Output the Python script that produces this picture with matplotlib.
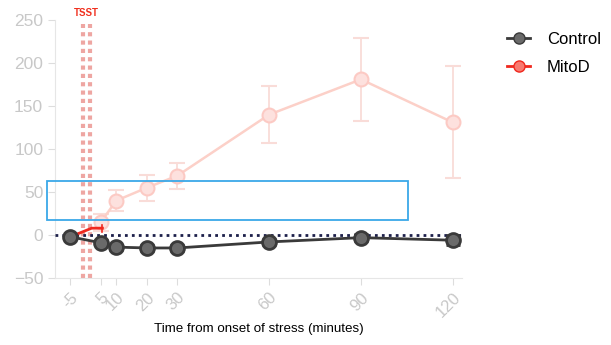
import matplotlib.pyplot as plt
from matplotlib.patches import Rectangle
from matplotlib.lines import Line2D

plt.rcParams['font.family'] = ['Liberation Sans', 'DejaVu Sans']

# time points (minutes from onset of stress)
minutes = [-5, 5, 10, 20, 30, 60, 90, 120]
tick_labels = ['-5', '5', '10', '20', '30', '60', '90', '120']

control = [-2, -9, -14, -15, -15, -8, -3, -6]
control_err = [2, 3, 3, 3, 3, 4, 4, 6]

mitod = [-2, 15, 40, 55, 69, 140, 181, 131]
mitod_err = [2, 10, 12, 15, 15, 33, 48, 65]

# partially drawn MitoD segment (bright red)
mitod_part_x = [-5, 2, 5.5]
mitod_part_y = [-2, 8, 8]

tsst_x = [-0.8, 1.5]
box_x = [-12.5, 105.5]
box_y = [17, 63]

fig = plt.figure(figsize=(6.11, 3.45), dpi=100)
ax = fig.add_axes([0.09, 0.194, 0.666, 0.748])

grey_txt = '#c8c8c8'

# faded MitoD series
ax.errorbar(minutes[1:], mitod[1:], yerr=mitod_err[1:], color='#fcd0c8', ecolor='#f9dcd8',
            lw=1.8, elinewidth=1.3, capsize=6, capthick=1.3, marker='o', ms=10,
            mfc='#fde1de', mec='#fccac4', mew=1.5, zorder=2)

# zero line
ax.axhline(0, color='#1c1f4a', lw=2, ls=(0, (1, 1.5)), zorder=3)

# TSST band
for xv in tsst_x:
    ax.plot([xv, xv], [-50, 245], color='#eea6a2', lw=3, ls=(0, (1, 1)), zorder=2)
ax.text(sum(tsst_x) / 2, 258, 'TSST', color='#f0301e', fontsize=7, fontweight='bold',
        ha='center', va='center')

# control series
ax.errorbar(minutes, control, yerr=control_err, color='#3a3a3a', lw=2,
            elinewidth=1.2, capsize=5, marker='o', ms=10,
            mfc='#6a6a6a', mec='#3a3a3a', mew=2, zorder=5)

ax.plot(mitod_part_x, mitod_part_y, color='#f0281e', lw=2, zorder=4)
ax.plot([mitod_part_x[-1]] * 2, [3, 12], color='#f0281e', lw=1.2, zorder=4)

# highlight box
ax.add_patch(Rectangle((box_x[0], box_y[0]), box_x[1] - box_x[0], box_y[1] - box_y[0],
                       fill=False, ec='#3aa8e8', lw=1.3, clip_on=False, zorder=6))

ax.set_xlim(-10, 123)
ax.set_ylim(-50, 250)
ax.set_xticks(minutes)
ax.set_xticklabels(tick_labels, rotation=45, ha='right', rotation_mode='anchor')
ax.set_yticks([-50, 0, 50, 100, 150, 200, 250])
ax.tick_params(colors='#dddddd', labelcolor=grey_txt, labelsize=12.5, length=5)
ax.tick_params(axis='x', labelsize=12)
for s in ['top', 'right']:
    ax.spines[s].set_visible(False)
for s in ['left', 'bottom']:
    ax.spines[s].set_color('#e6e6e6')
ax.set_xlabel('Time from onset of stress (minutes)', fontsize=9.6, labelpad=2)

handles = [
    Line2D([0], [0], color='#3a3a3a', lw=2, marker='o', ms=8, mfc='#6a6a6a', mec='#3a3a3a'),
    Line2D([0], [0], color='#f0281e', lw=2, marker='o', ms=8, mfc='#f87a70', mec='#f0281e'),
]
fig.legend(handles, ['Control', 'MitoD'], loc='upper left', bbox_to_anchor=(0.805, 0.95),
           frameon=False, fontsize=12, handlelength=1.4, handletextpad=1.0,
           labelspacing=0.75)

fig.savefig('out.png', dpi=100)
